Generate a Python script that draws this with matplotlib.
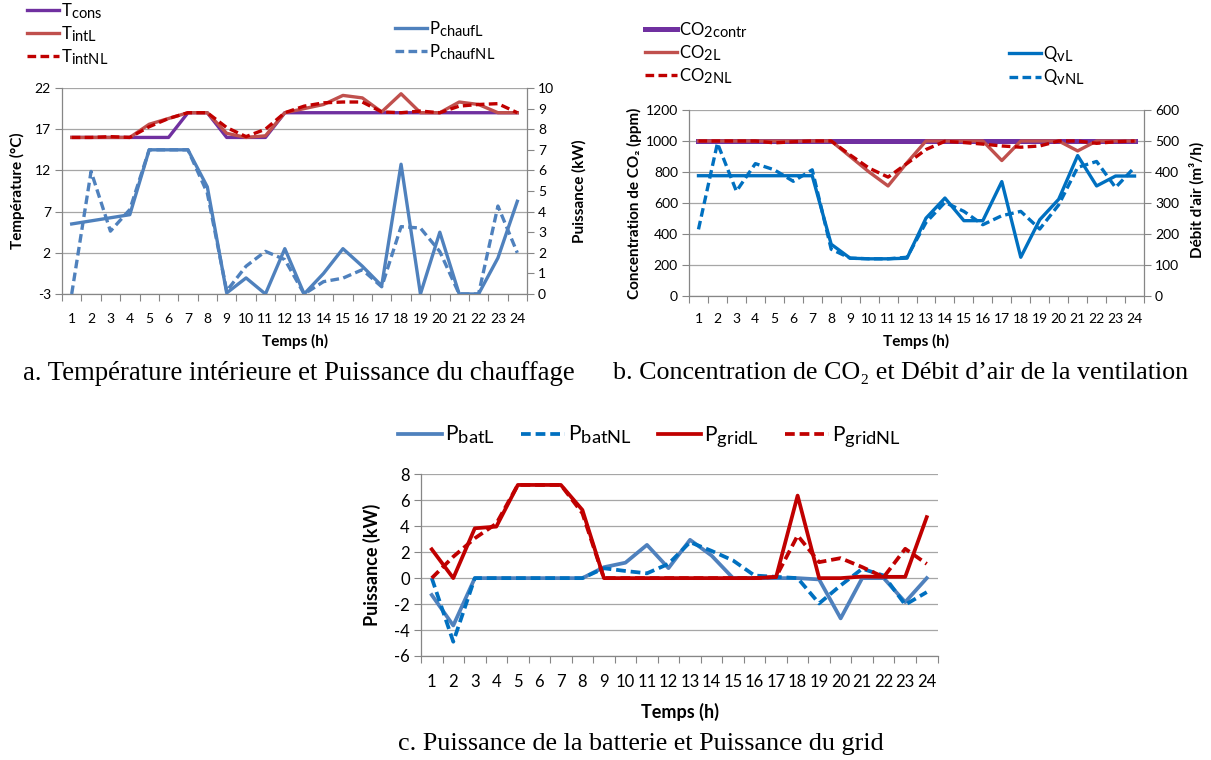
import matplotlib
matplotlib.use("Agg")
import matplotlib.pyplot as plt
import matplotlib._mathtext as _mt
import numpy as np
from matplotlib.ticker import FixedLocator

# ---------------- data ----------------
hours = list(range(1, 25))

T_cons = [16, 16, 16, 16, 16, 16, 19, 19, 16, 16, 16, 19, 19, 19, 19, 19, 19, 19, 19, 19, 19, 19, 19, 19]
T_intL = [16, 16, 16, 16, 17.6, 18.3, 19, 19, 16.5, 16, 16.2, 19, 19.5, 20.0, 21.1, 20.8, 19.1, 21.3, 19, 19, 20.3, 20.0, 19, 19]
T_intNL = [16, 16, 16.1, 16, 17.3, 18.3, 19, 19, 17.2, 16.1, 17.0, 19, 19.8, 20.2, 20.3, 20.3, 19.1, 19.0, 19.2, 19.0, 19.8, 20.0, 20.1, 19]
P_chaufL = [3.4, 3.55, 3.7, 3.85, 7.0, 7.0, 7.0, 5.2, 0.05, 0.78, 0, 2.2, 0, 1.0, 2.2, 1.35, 0.4, 6.3, 0, 3.0, 0, 0, 1.75, 4.5]
P_chaufNL = [0, 5.95, 3.05, 4.1, 7.0, 7.0, 7.0, 4.9, 0.15, 1.35, 2.07, 1.67, 0, 0.6, 0.77, 1.18, 0.35, 3.27, 3.2, 2.06, 0, 0, 4.27, 2.0]

CO2_contr = [1000, 1000, 1000, 1000, 1000, 1000, 1000, 1000, 1000, 1000, 1000, 1000,
             1000, 1000, 1000, 1000, 1000, 1000, 1000, 1000, 1000, 1000, 1000, 1000]
CO2_L = [1000, 1000, 1000, 1000, 1000, 1000, 1000, 1000, 900, 800, 710, 860,
         1000, 1000, 1000, 1000, 874, 1000, 1000, 1000, 936, 1000, 1000, 1000]
CO2_NL = [1000, 1000, 1000, 1000, 988, 995, 1000, 1000, 910, 825, 767, 855,
          945, 998, 990, 980, 968, 960, 968, 1000, 1000, 985, 995, 1000]
Qv_L = [388, 388, 388, 388, 388, 388, 388, 167, 122, 120, 120, 122,
        251, 316, 243, 243, 369, 125, 246, 312, 453, 355, 387, 387]
Qv_NL = [215, 493, 338, 427, 407, 370, 407, 151, 122, 120, 120, 125,
         237, 302, 273, 230, 259, 273, 216, 294, 415, 434, 350, 415]

P_batL = [-1.3, -3.65, 0, 0, 0, 0, 0, 0, 0.84, 1.19, 2.56, 0.77, 2.95, 1.74, 0, 0, 0, 0, -0.1, -3.1, 0, 0, -1.85, 0]
P_batNL = [0, -4.9, 0, 0, 0, 0, 0, 0, 0.76, 0.55, 0.37, 1.1, 2.77, 2.1, 1.36, 0.2, 0.1, 0, -1.95, -0.56, 0.72, 0.2, -2.05, -1.08]
P_gridL = [2.22, 0, 3.84, 3.97, 7.18, 7.18, 7.18, 5.25, 0, 0, 0, 0, 0, 0, 0, 0, 0.08, 6.36, 0, 0, 0.12, 0.1, 0.1, 4.7]
P_gridNL = [0, 1.65, 3.07, 4.2, 7.18, 7.18, 7.18, 5.0, 0, 0, 0, 0, 0, 0, 0, 0, 0.1, 3.28, 1.23, 1.54, 0.85, 0.08, 2.26, 1.1]

# ---------------- style ----------------
plt.rcParams["font.family"] = ["Lato", "DejaVu Sans"]
plt.rcParams["axes.unicode_minus"] = False
_mt.SHRINK_FACTOR = 0.88   # Excel-like large subscripts in legends
W, H = 1211, 760
fig = plt.figure(figsize=(W / 100, H / 100), dpi=100)

PURPLE = "#7030A0"
BROWN = "#C0504D"
DKRED = "#C00000"
LBLUE = "#4F81BD"
BLUE = "#0070C0"
GRID = "#A6A6A6"
AXC = "#868686"
DASH = (0, (2.6, 1.3))
LW = 2.4


def box(l, t, r, b):
    return [l / W, 1 - b / H, (r - l) / W, (b - t) / H]


def yticks(ax, ymin, ymax, ystep):
    ax.set_ylim(ymin, ymax)
    ax.yaxis.set_major_locator(FixedLocator(np.arange(ymin, ymax + ystep / 2, ystep)))


def style_main(ax, ymin, ymax, ystep, fs, xpad):
    ax.set_xlim(0.5, 24.5)
    yticks(ax, ymin, ymax, ystep)
    ax.set_xticks(hours)
    ax.set_xticklabels([str(h) for h in hours], fontsize=fs)
    ax.xaxis.set_minor_locator(FixedLocator([h + 0.5 for h in range(0, 25)]))
    ax.tick_params(axis="x", which="major", length=0, pad=xpad)
    ax.tick_params(axis="x", which="minor", length=5, width=0.8, color=AXC, direction="out")
    ax.tick_params(axis="y", length=5, width=0.8, color=AXC, direction="out", labelsize=fs, pad=3)
    ax.grid(axis="y", color=GRID, lw=0.9)
    ax.set_axisbelow(True)
    for s in ["top", "right"]:
        ax.spines[s].set_visible(False)
    for s in ["left", "bottom"]:
        ax.spines[s].set_color(AXC)
        ax.spines[s].set_linewidth(0.9)


def style_twin(ax, ymin, ymax, ystep, fs):
    yticks(ax, ymin, ymax, ystep)
    ax.tick_params(axis="y", length=5, width=0.8, color=AXC, direction="out", labelsize=fs, pad=3)
    for s in ["top", "left", "bottom"]:
        ax.spines[s].set_visible(False)
    ax.spines["right"].set_color(AXC)
    ax.spines["right"].set_linewidth(0.9)


def ftext(x, y, s, **kw):
    kw.setdefault("ha", "center")
    kw.setdefault("va", "center")
    return fig.text(x / W, 1 - y / H, s, **kw)


def m(s):
    return r"$\mathregular{" + s + "}$"


# ---------------- chart a ----------------
axA = fig.add_axes(box(62, 88, 527, 294))
style_main(axA, -3, 22, 5, 10, 14)
axA2 = axA.twinx()
style_twin(axA2, 0, 10, 1, 10)

lTc, = axA.plot(hours, T_cons, color=PURPLE, lw=LW, label=m("T_{cons}"))
lTL, = axA.plot(hours, T_intL, color=BROWN, lw=LW, label=m("T_{intL}"))
lTNL, = axA.plot(hours, T_intNL, color=DKRED, lw=LW, ls=DASH, label=m("T_{intNL}"))
lPL, = axA2.plot(hours, P_chaufL, color=LBLUE, lw=LW, label=m("P_{chaufL}"))
lPNL, = axA2.plot(hours, P_chaufNL, color=LBLUE, lw=LW, ls=DASH, label=m("P_{chaufNL}"))

ftext(17, 191, "Température (°C)", rotation=90, fontsize=11, fontweight="bold")
ftext(579, 191, "Puissance (kW)", rotation=90, fontsize=11, fontweight="bold")
ftext(295, 341, "Temps (h)", fontsize=11, fontweight="bold")

legkw = dict(frameon=False, loc="upper left", borderpad=0, borderaxespad=0,
             handletextpad=0.15, labelspacing=0.2, handlelength=1.9, fontsize=12)
fig.legend(handles=[lTc, lTL, lTNL], bbox_to_anchor=(27 / W, 1 - 1 / H), **legkw)
fig.legend(handles=[lPL, lPNL], bbox_to_anchor=(395 / W, 1 - 19 / H), **legkw)

# ---------------- chart b ----------------
axB = fig.add_axes(box(689, 110, 1144, 296))
style_main(axB, 0, 1200, 200, 10, 12)
axB2 = axB.twinx()
style_twin(axB2, 0, 600, 100, 10)

lCc, = axB.plot(hours, CO2_contr, color=PURPLE, lw=3.6, label=m("CO_{2contr}"))
lCL, = axB.plot(hours, CO2_L, color=BROWN, lw=LW, label=m("CO_{2L}"))
lCNL, = axB.plot(hours, CO2_NL, color=DKRED, lw=LW, ls=DASH, label=m("CO_{2NL}"))
lQL, = axB2.plot(hours, Qv_L, color=BLUE, lw=LW, label=m("Q_{vL}"))
lQNL, = axB2.plot(hours, Qv_NL, color=BLUE, lw=LW, ls=DASH, label=m("Q_{vNL}"))

ftext(634, 203, "Concentration de CO₂ (ppm)", rotation=90, fontsize=11, fontweight="bold")
ftext(1197, 200, "Débit d'air (m³/h)", rotation=90, fontsize=11, fontweight="bold")
ftext(916, 341, "Temps (h)", fontsize=11, fontweight="bold")

fig.legend(handles=[lCc, lCL, lCNL], bbox_to_anchor=(645 / W, 1 - 20 / H), **legkw)
fig.legend(handles=[lQL, lQNL], bbox_to_anchor=(1009 / W, 1 - 44 / H), **legkw)

# ---------------- chart c ----------------
axC = fig.add_axes(box(421, 474.3, 937.5, 656))
style_main(axC, -6, 8, 2, 12, 13)

lBL, = axC.plot(hours, P_batL, color=LBLUE, lw=LW + 0.3, label=m("P_{batL}"))
lBNL, = axC.plot(hours, P_batNL, color=BLUE, lw=LW + 0.3, ls=DASH, label=m("P_{batNL}"))
lGL, = axC.plot(hours, P_gridL, color=DKRED, lw=LW + 0.3, label=m("P_{gridL}"))
lGNL, = axC.plot(hours, P_gridNL, color=DKRED, lw=LW + 0.3, ls=DASH, label=m("P_{gridNL}"))

ftext(372, 565, "Puissance (kW)", rotation=90, fontsize=13, fontweight="bold")
ftext(680, 712, "Temps (h)", fontsize=13, fontweight="bold")

fig.legend(handles=[lBL, lBNL, lGL, lGNL], bbox_to_anchor=(398 / W, 1 - 424 / H),
           frameon=False, loc="upper left", borderpad=0, borderaxespad=0, ncol=4,
           handletextpad=0.15, columnspacing=1.25, handlelength=2.1, fontsize=15)

# ---------------- captions ----------------
SERIF = ["Liberation Serif", "DejaVu Serif"]
caps = [
    (298.5, 373, "a. Température intérieure et Puissance du chauffage", 553),
    (901, 373, "b. Concentration de CO₂ et Débit d’air de la ventilation", 577),
    (641, 744, "c. Puissance de la batterie et Puissance du grid", 486),
]
texts = []
for xc, yc, s, wt in caps:
    texts.append((ftext(xc, yc, s, fontsize=16, family=SERIF), wt))
fig.canvas.draw()
r = fig.canvas.get_renderer()
for t, wt in texts:
    w = t.get_window_extent(r).width
    t.set_fontsize(16 * wt / w)

fig.savefig("out.png", dpi=100)
